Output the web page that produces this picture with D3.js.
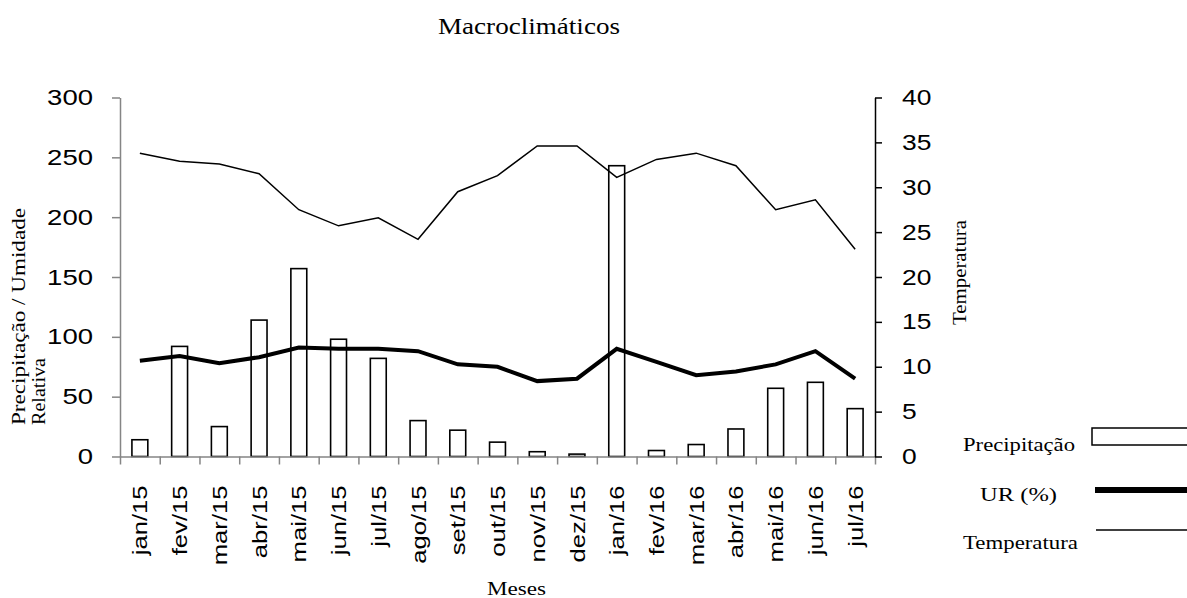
<!DOCTYPE html>
<html>
<head>
<meta charset="utf-8">
<script src="https://cdn.jsdelivr.net/npm/d3@7"></script>
<style>
  body { margin: 0; background: #fff; }
  svg { display: block; }
</style>
</head>
<body>
<div id="chart"></div>
<script>
// chart data
const months = ["jan/15", "fev/15", "mar/15", "abr/15", "mai/15", "jun/15", "jul/15", "ago/15", "set/15",
    "out/15", "nov/15", "dez/15", "jan/16", "fev/16", "mar/16", "abr/16", "mai/16", "jun/16", "jul/16"];
const precipitacao = [14, 92, 25, 114, 157, 98, 82, 30, 22, 12, 4, 2, 243, 5, 10, 23, 57, 62, 40];
const umidade = [80, 84, 78, 83, 91, 90, 90, 88, 77, 75, 63, 65, 90, 79, 68, 71, 77, 88, 65];
const temperatura = [33.8, 32.9, 32.6, 31.5, 27.5, 25.7, 26.6, 24.2, 29.5, 31.3, 34.6, 34.6, 31.1, 33.1, 33.8, 32.4, 27.5, 28.6, 23.1];
const leftTicks = [0, 50, 100, 150, 200, 250, 300];
const rightTicks = [0, 5, 10, 15, 20, 25, 30, 35, 40];

const width = 1187, height = 598;
const plot = {left: 120, right: 875, top: 97.5, bottom: 456.5};
const grey = "#858585";
const sans = "'Liberation Sans', Arial, sans-serif";
const serif = "'Liberation Serif', 'Times New Roman', serif";

let svg = d3.select("#chart")
    .append("svg")
    .attr("width", width)
    .attr("height", height);

let x = d3.scaleBand()
    .domain(months)
    .range([plot.left, plot.right])
    .padding(0);

// boundaries between the months, for the tick marks
let xEdge = d3.scaleLinear()
    .domain([0, months.length])
    .range([plot.left, plot.right]);

let yLeft = d3.scaleLinear()
    .domain([0, 300])
    .range([plot.bottom, plot.top]);

let yRight = d3.scaleLinear()
    .domain([0, 40])
    .range([plot.bottom, plot.top]);

// stretch text sideways, the original is a bit wider than the fonts here
function stretch(sel, factor) {
    sel.each(function() {
        let w = this.getComputedTextLength();
        d3.select(this).attr("textLength", w * factor).attr("lengthAdjust", "spacingAndGlyphs");
    });
}

// plain serif label with a fixed drawn length
function label(g, txt, size, len) {
    return g.append("text")
        .attr("font-family", serif)
        .attr("font-size", size)
        .attr("textLength", len)
        .attr("lengthAdjust", "spacingAndGlyphs")
        .text(txt);
}

// bars
let bw = x.bandwidth() * 0.4;
svg.append("g").selectAll("rect")
    .data(precipitacao)
    .enter()
    .append("rect")
    .attr("x", (d, i) => x(months[i]) + x.bandwidth() / 2 - bw / 2)
    .attr("y", d => yLeft(d))
    .attr("width", bw)
    .attr("height", d => yLeft(0) - yLeft(d))
    .attr("fill", "#fff")
    .attr("stroke", "#000")
    .attr("stroke-width", 1.6);

// left axis
let gLeft = svg.append("g")
    .attr("transform", `translate(${plot.left}, 0)`)
    .call(d3.axisLeft(yLeft).tickValues(leftTicks).tickSize(8).tickSizeOuter(0).tickPadding(19));
gLeft.selectAll("path, line").attr("stroke", grey).attr("stroke-width", 1.5);
gLeft.selectAll("text").attr("font-family", sans).attr("font-size", 22).attr("fill", "#000");
stretch(gLeft.selectAll("text"), 1.25);

// bottom axis, ticks between months
let gEdge = svg.append("g")
    .attr("transform", `translate(0, ${plot.bottom})`)
    .call(d3.axisBottom(xEdge).tickValues(d3.range(months.length + 1)).tickSize(8).tickSizeOuter(0).tickFormat(""));
gEdge.selectAll("path, line").attr("stroke", grey).attr("stroke-width", 1.5);

// month labels
let gMonths = svg.append("g")
    .attr("transform", `translate(0, ${plot.bottom})`)
    .call(d3.axisBottom(x).tickSize(0));
gMonths.select(".domain").remove();
gMonths.selectAll("text")
    .attr("font-family", sans)
    .attr("font-size", 21)
    .attr("fill", "#000")
    .attr("text-anchor", "end")
    .attr("transform", "rotate(-90)")
    .attr("x", -29)
    .attr("y", 0)
    .attr("dy", "0.36em");
stretch(gMonths.selectAll("text"), 1.22);

// right axis
let gRight = svg.append("g")
    .attr("transform", `translate(${plot.right}, 0)`)
    .call(d3.axisRight(yRight).tickValues(rightTicks).tickSize(7).tickSizeOuter(0).tickPadding(20));
gRight.selectAll("path, line").attr("stroke", "#000").attr("stroke-width", 1.5);
gRight.selectAll("text").attr("font-family", sans).attr("font-size", 22).attr("fill", "#000");
stretch(gRight.selectAll("text"), 1.2);

// lines
let cx = i => x(months[i]) + x.bandwidth() / 2;

svg.append("path")
    .datum(umidade)
    .attr("fill", "none")
    .attr("stroke", "#000")
    .attr("stroke-width", 4)
    .attr("d", d3.line().x((d, i) => cx(i)).y(d => yLeft(d)));

svg.append("path")
    .datum(temperatura)
    .attr("fill", "none")
    .attr("stroke", "#000")
    .attr("stroke-width", 1.5)
    .attr("d", d3.line().x((d, i) => cx(i)).y(d => yRight(d)));

// title
label(svg, "Macroclimáticos", 23, 182)
    .attr("x", 529)
    .attr("y", 34)
    .attr("text-anchor", "middle");

// axis titles
label(svg, "Precipitação / Umidade", 18, 217)
    .attr("transform", "translate(25, 425) rotate(-90)");
label(svg, "Relativa", 18, 67)
    .attr("transform", "translate(45, 425) rotate(-90)");
label(svg, "Temperatura", 18, 105)
    .attr("transform", "translate(966, 325) rotate(-90)");
label(svg, "Meses", 19, 59)
    .attr("x", 487)
    .attr("y", 595);

// legend
let legend = svg.append("g");

label(legend, "Precipitação", 19, 112).attr("x", 963).attr("y", 451);
legend.append("rect")
    .attr("x", 1092).attr("y", 428).attr("width", 110).attr("height", 17)
    .attr("fill", "#fff").attr("stroke", "#000").attr("stroke-width", 1.5);

label(legend, "UR (%)", 19, 77).attr("x", 980).attr("y", 501);
legend.append("line")
    .attr("x1", 1095).attr("x2", 1190).attr("y1", 490).attr("y2", 490)
    .attr("stroke", "#000").attr("stroke-width", 6);

label(legend, "Temperatura", 19, 115).attr("x", 963).attr("y", 549);
legend.append("line")
    .attr("x1", 1096).attr("x2", 1190).attr("y1", 530).attr("y2", 530)
    .attr("stroke", "#000").attr("stroke-width", 1.5);
</script>
</body>
</html>
